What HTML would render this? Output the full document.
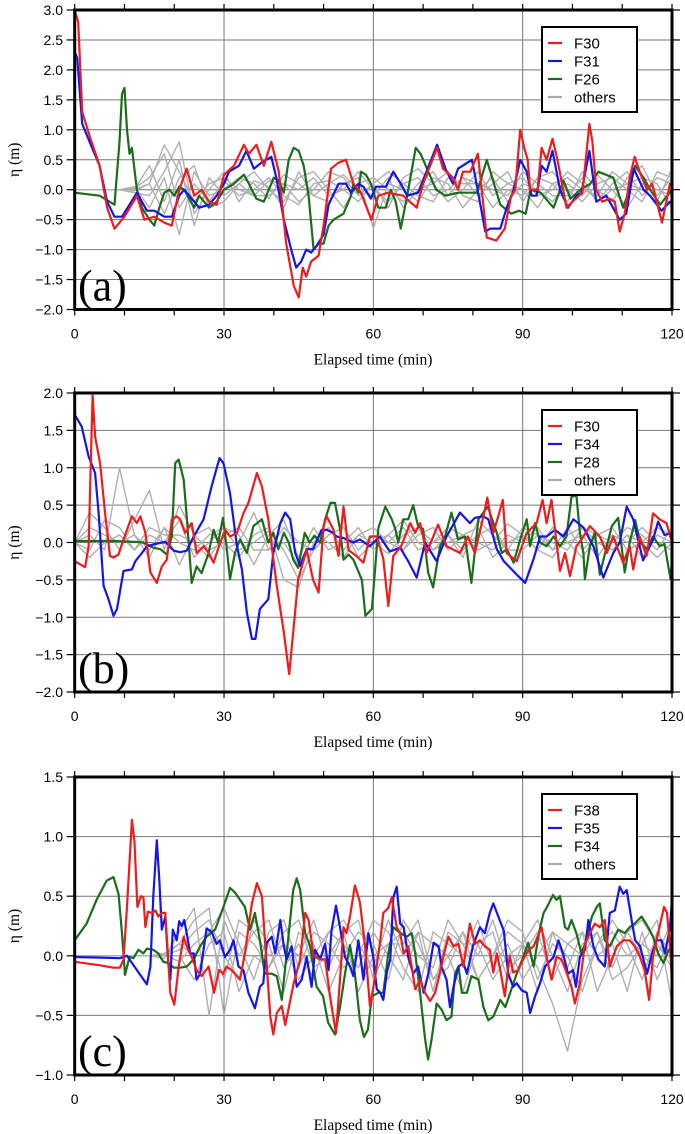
<!DOCTYPE html>
<html><head><meta charset="utf-8">
<style>
html,body{margin:0;padding:0;background:#fff;}
svg{display:block;}
</style></head>
<body>
<svg id="chart" width="685" height="1134" xmlns="http://www.w3.org/2000/svg"></svg>
<script>
// ---------- DATA ----------
const xTicks = [0, 30, 60, 90, 120];
const grayT = [0,3,6,9,12,15,18,21,24,27,30,33,36,39,42,45,48,51,54,57,60,63,66,69,72,75,78,81,84,87,90,93,96,99,102,105,108,111,114,117,120];

const aLabels = ["F30","F31","F26"];
const aRed = [[0,3.0],[0.7,2.8],[1.5,1.3],[3,0.9],[5,0.4],[6.5,-0.3],[8,-0.65],[10,-0.45],[12.5,-0.1],[14,-0.5],[16,-0.45],[18,-0.55],[19.5,-0.6],[21,0.0],[22.5,0.35],[24,-0.1],[25.5,0.0],[27,-0.2],[28.5,-0.25],[30,0.25],[32,0.4],[34,0.75],[35,0.6],[36.5,0.75],[38,0.4],[39.5,0.8],[41,0.3],[42.5,-0.9],[44,-1.6],[45,-1.8],[45.8,-1.3],[46.5,-1.45],[47.5,-1.2],[49,-1.1],[50,-0.6],[51.5,0.35],[53,0.45],[54.5,0.5],[56,0.1],[57.5,-0.05],[59.6,-0.5],[61,-0.1],[63,-0.05],[66,-0.1],[68.7,-0.3],[70,0.1],[72.8,0.7],[74,0.35],[76,0.2],[77,0.0],[78,0.3],[79.5,0.3],[81,0.6],[82.8,-0.8],[84.7,-0.85],[86.4,-0.65],[87.7,-0.1],[88.5,0.0],[89.5,1.0],[90.3,0.7],[91,0.5],[91.5,0.0],[93,0.0],[93.8,0.7],[94.8,0.5],[96,0.85],[97,0.5],[98.8,-0.3],[100,-0.2],[102,-0.05],[103.4,1.1],[104,0.8],[104.8,0.0],[106,-0.2],[107.5,-0.15],[108.5,-0.2],[109.5,-0.7],[110.5,-0.4],[111.5,0.2],[112.5,0.55],[113.5,0.3],[115,0.0],[116,0.1],[118,-0.55],[119.6,0.1],[120,0.05]];
const aBlue = [[0,2.3],[0.5,2.2],[1.5,1.1],[3,0.8],[5,0.4],[6.5,-0.2],[8,-0.45],[9.5,-0.45],[11,-0.25],[12.5,-0.05],[14.5,-0.35],[16,-0.35],[18,-0.45],[19.5,-0.45],[21,-0.1],[22,0.0],[24,-0.2],[25,-0.3],[27,-0.25],[28.5,-0.1],[30,0.1],[31,0.3],[33,0.4],[34.5,0.65],[36,0.35],[37.5,0.45],[39.5,0.55],[40.5,0.2],[42,-0.5],[43.5,-1.0],[44.5,-1.3],[45.5,-1.2],[46.5,-1.0],[47.5,-1.05],[48.5,-0.95],[50,-0.75],[51,-0.25],[53,0.1],[54.5,0.1],[55.5,-0.05],[57,0.1],[58,0.05],[59.5,-0.15],[60.5,0.05],[62.5,0.05],[64,0.3],[65.5,0.1],[66.8,-0.1],[69,-0.05],[72.8,0.75],[74.5,0.35],[76,0.1],[77,0.35],[79.8,0.5],[80.5,0.2],[82.5,-0.7],[83.5,-0.65],[85.5,-0.65],[86.8,-0.3],[88.2,0.0],[89.5,0.5],[90.8,0.3],[91.8,-0.1],[92.8,-0.1],[93.8,0.4],[94.8,0.3],[96,0.65],[97.5,0.0],[99.1,-0.3],[100.8,-0.1],[101.8,-0.05],[103.4,0.65],[104.8,-0.2],[106.8,-0.1],[109.5,-0.5],[110.8,-0.4],[112.3,0.35],[114.3,0.0],[115.6,-0.1],[117.9,-0.35],[119.6,-0.2],[120,-0.2]];
const aGreen = [[0,-0.05],[5,-0.1],[7,-0.2],[8,-0.25],[9,0.8],[9.5,1.6],[10,1.7],[10.5,1.0],[11,0.6],[11.5,0.7],[12.5,0.0],[13.5,-0.3],[15,-0.5],[16,-0.6],[17,-0.3],[18,-0.05],[19,0.0],[20,-0.1],[21,0.05],[22,0.0],[23,-0.15],[24,-0.3],[25,-0.1],[26,-0.2],[27,-0.3],[28.5,-0.2],[30,0.0],[32,0.1],[34,0.25],[35,0.1],[36.5,-0.15],[38,-0.2],[40,0.2],[41,0.15],[42,-0.05],[43,0.5],[44,0.7],[45,0.65],[46,0.4],[47,-0.1],[48,-1.0],[49,-0.9],[50,-0.9],[51,-0.6],[52,-0.5],[54,-0.4],[55.5,-0.1],[56,0.1],[57,-0.05],[57.5,0.3],[58.5,0.25],[59.5,0.1],[61,-0.3],[62.5,-0.3],[63.5,0.0],[64.5,-0.2],[65.5,-0.65],[66.8,-0.1],[68.5,0.7],[69.5,0.6],[72.6,0.0],[74.5,-0.1],[77,-0.05],[79.8,-0.05],[80.8,-0.05],[82.8,0.5],[85.5,-0.25],[87.7,-0.4],[89.3,-0.35],[90.6,-0.4],[91.6,0.0],[93.6,-0.05],[96.2,-0.3],[98.2,0.15],[99.6,-0.15],[101.6,0.0],[103.6,0.1],[105.2,0.3],[108.2,0.2],[110.2,-0.3],[111,-0.1],[112.6,0.4],[114.3,0.2],[115.6,0.0],[117.6,-0.25],[120,0.0]];
const aGray = [
[0,0,0,0,-0.02,0.1,0.75,0.3,-0.2,0.1,0.2,0.0,-0.1,0.15,0.1,-0.2,0.0,0.3,0.2,-0.1,0.1,-0.3,0.2,0.35,0.1,-0.2,0.0,0.3,-0.1,0.1,0.2,-0.1,0.0,0.3,0.1,-0.2,0.1,0.3,-0.1,0.2,0.1],
[0,0,0,0,0.05,-0.3,0.2,-0.75,0.3,-0.1,0.0,0.2,0.1,-0.15,0.25,0.1,-0.1,-0.2,0.1,0.2,-0.65,0.1,0.0,-0.2,0.2,0.1,-0.3,0.0,0.2,-0.2,0.1,0.0,-0.2,0.1,-0.1,0.25,0.0,-0.3,0.1,0.0,-0.1],
[0,0,0,0,0.0,0.4,-0.2,0.5,-0.6,0.2,-0.1,0.1,0.3,0.0,-0.2,0.2,0.3,0.0,-0.3,0.1,0.2,0.0,-0.2,0.1,0.3,-0.1,0.2,-0.1,0.1,0.3,-0.2,0.2,0.1,-0.2,0.3,0.0,-0.2,0.2,0.4,-0.1,0.2],
[0,0,0,0,0.02,0.2,0.6,-0.3,0.1,-0.2,0.15,-0.1,0.0,0.2,-0.1,-0.25,0.1,0.15,0.0,-0.2,0.1,0.3,0.1,-0.1,-0.2,0.2,0.1,0.1,-0.3,0.0,-0.1,0.2,0.3,0.0,-0.2,0.1,0.2,0.0,-0.2,0.3,0.2],
[0,0,0,0,-0.05,-0.1,0.3,0.8,-0.4,0.0,0.3,-0.2,0.15,0.05,-0.3,0.3,-0.1,0.1,0.25,0.0,-0.1,0.2,-0.3,0.0,0.1,0.3,-0.1,-0.2,0.3,0.1,0.0,-0.3,0.1,0.2,0.0,-0.1,0.3,0.1,0.0,-0.2,0.35],
[0,0,0,0,0.0,0.1,-0.4,0.2,0.4,-0.3,-0.2,0.1,-0.1,-0.1,0.1,0.0,0.2,-0.1,0.0,0.3,0.0,-0.2,0.1,0.2,-0.1,0.0,0.2,0.1,0.0,-0.1,0.3,0.1,-0.1,-0.1,0.2,-0.2,0.0,0.1,0.2,0.1,-0.3]
];

const bLabels = ["F30","F34","F28"];
const bRed = [[0,-0.25],[2.1,-0.33],[2.8,-0.05],[3.6,1.97],[4.1,1.42],[5.1,1.06],[6.1,0.39],[7.1,-0.18],[7.8,-0.2],[8.8,-0.16],[9.8,0.04],[11.5,0.35],[12.5,0.26],[13.2,0.35],[14.2,0.13],[15.2,-0.4],[16.5,-0.54],[17.5,-0.32],[18.5,-0.23],[19.5,0.31],[20.5,0.35],[21.2,0.31],[22.2,0.13],[23.5,0.26],[24.5,-0.14],[25.9,-0.05],[26.9,-0.14],[27.9,-0.27],[28.9,-0.07],[30.2,0.17],[31.2,0.08],[32.6,0.13],[33.9,0.39],[34.9,0.53],[36.6,0.93],[37.6,0.75],[38.9,0.31],[40.6,-0.58],[42,-1.2],[43.1,-1.76],[43.9,-1.2],[44.9,-0.49],[46.6,-0.1],[47.9,-0.5],[49,-0.67],[50,0.22],[50.6,0.35],[52,0.17],[53,-0.18],[54,0.48],[55,-0.1],[56.6,-0.18],[58,-0.27],[59.3,0.08],[60.7,0.08],[62,-0.22],[63,-0.85],[64,-0.18],[65.6,-0.05],[67.4,0.26],[68.4,0.13],[69.4,0.26],[70.7,-0.14],[73,0.24],[74.7,-0.05],[77.4,-0.14],[79,0.08],[80.4,-0.14],[82.1,0.35],[82.9,0.6],[84.1,0.13],[85.1,0.35],[86,0.57],[86.8,-0.14],[88.8,-0.25],[90.8,0.13],[92.8,0.26],[94,0.57],[94.8,0.26],[95.8,0.57],[96.8,0.0],[97.5,-0.38],[98.5,-0.14],[99.5,-0.45],[100.8,-0.05],[102.2,0.08],[103.5,0.22],[105.5,0.08],[106.9,-0.14],[108.2,0.08],[109.2,-0.1],[110.2,-0.27],[111.5,-0.05],[112.2,-0.36],[113.5,0.08],[114.9,-0.18],[116.2,0.39],[117.5,0.31],[118.9,0.26],[120,0.0]];
const bBlue = [[0,1.71],[1.4,1.55],[2.8,1.15],[4.1,0.93],[4.8,0.4],[5.8,-0.58],[6.8,-0.76],[7.8,-0.98],[8.5,-0.89],[9.8,-0.38],[11.5,-0.36],[12.2,-0.25],[13.5,-0.14],[14.5,-0.05],[16.2,-0.02],[18.2,0.01],[19.9,-0.11],[21.2,-0.13],[22.5,-0.11],[23.9,0.08],[25.9,0.31],[27.5,0.75],[29.1,1.13],[29.9,1.06],[31.2,0.66],[32.6,-0.05],[33.6,-0.36],[34.6,-0.94],[35.6,-1.29],[36.3,-1.29],[37.2,-0.89],[38.9,-0.76],[39.9,-0.14],[41.3,0.26],[42.3,0.4],[43.3,0.31],[44.3,-0.14],[45.3,-0.31],[46.6,-0.09],[47.9,-0.09],[49.6,0.17],[50.6,0.17],[51.9,0.13],[52.6,0.08],[54,0.06],[56,0.0],[57.3,0.04],[59.3,-0.05],[61.3,0.08],[63.3,-0.12],[65.4,-0.07],[67,-0.25],[68.7,-0.47],[70.4,0.0],[72.7,-0.25],[74.7,0.08],[77.4,0.4],[79.4,0.26],[80.4,0.33],[82.1,0.35],[83.1,0.31],[84.8,-0.09],[86.2,-0.25],[89.1,-0.45],[90.5,-0.54],[92.2,-0.22],[93.5,0.08],[94.8,0.08],[96.5,0.17],[98.2,0.08],[100.2,0.31],[102.2,0.2],[104.2,-0.05],[106.2,-0.47],[108.2,-0.14],[109.5,0.0],[110.9,0.48],[112.2,0.31],[114.2,-0.24],[116.2,0.04],[117.2,0.28],[118.5,0.1],[120,0.13]];
const bGreen = [[0,0.02],[4,0.02],[8,0.02],[12,0.01],[13.8,0.0],[15.8,-0.07],[17.2,-0.09],[18.5,-0.16],[19.5,0.08],[20.2,1.06],[20.9,1.11],[21.9,0.84],[22.5,0.35],[23.5,-0.54],[24.5,-0.32],[25.5,-0.41],[26.9,-0.14],[27.9,0.17],[28.8,0.0],[29.8,0.33],[30.5,-0.05],[31.2,-0.49],[32.2,-0.14],[33.2,0.04],[34.6,-0.14],[35.9,0.22],[37.6,0.31],[38.9,0.0],[39.9,0.13],[40.9,-0.09],[42,0.13],[43,0.0],[43.9,-0.23],[44.9,-0.34],[46.2,0.13],[47.2,0.0],[48.2,0.09],[49.3,0.0],[50.3,0.31],[51.4,0.53],[52.3,0.53],[53.3,0.18],[54,-0.23],[55,-0.16],[56,-0.23],[57.7,-0.5],[58.4,-0.98],[59.7,-0.89],[60.4,-0.32],[61,0.19],[62.4,0.48],[63.7,0.31],[64.4,0.18],[65,0.0],[66,0.31],[67,0.31],[68,0.5],[69,0.22],[70,0.18],[71,-0.4],[72,-0.6],[73.4,-0.05],[74.4,0.08],[75.7,0.4],[77,0.04],[78.4,0.08],[79.7,-0.54],[81.1,0.31],[83,0.48],[84.8,0.13],[85.8,-0.14],[86.8,-0.09],[88.2,-0.27],[89.5,0.04],[90.8,0.31],[91.5,-0.05],[92.5,0.26],[93.5,0.0],[94.8,-0.05],[96.2,0.08],[97.5,-0.05],[98.8,0.08],[99.8,0.61],[100.8,0.63],[101.5,0.13],[102.2,-0.14],[102.5,-0.49],[103.5,-0.05],[104.5,0.13],[105.5,-0.43],[106.9,-0.05],[107.9,0.22],[109.2,0.33],[110.5,-0.4],[111.5,0.0],[112.6,0.3],[113.6,0.0],[114.9,-0.09],[116.2,0.08],[117.5,-0.05],[118.5,-0.02],[119.7,-0.49],[120,-0.23]];
const bGray = [
[0,0.1,-0.1,1.0,0.1,-0.2,0.2,0.0,-0.1,0.1,0.2,-0.1,0.0,0.15,-0.1,-0.5,-0.1,0.1,0.2,-0.1,0.1,0.0,0.2,-0.1,0.0,0.2,0.1,-0.1,0.0,0.25,0.1,-0.1,0.2,0.0,-0.2,0.1,0.2,-0.1,0.0,0.2,0.1],
[0,0.4,0.2,-0.1,0.3,0.7,-0.1,0.5,0.1,-0.1,0.0,-0.2,0.1,0.2,-0.5,-0.6,0.0,0.2,-0.1,0.1,0.0,-0.15,0.1,0.2,-0.1,0.0,0.1,0.2,-0.2,0.0,0.1,-0.1,-0.2,0.1,0.2,0.0,-0.1,0.1,0.0,-0.2,0.0],
[0,-0.1,0.3,0.2,-0.1,0.1,0.0,0.3,-0.2,0.0,0.2,0.1,-0.3,0.1,0.3,-0.2,0.2,-0.1,0.0,0.2,-0.1,0.1,0.3,0.0,-0.1,0.1,-0.2,0.3,0.1,-0.1,0.2,0.1,-0.1,0.2,-0.1,0.1,0.0,0.2,0.1,-0.1,0.2],
[0,0.2,0.1,0.0,0.1,-0.1,0.2,-0.3,0.1,0.2,-0.1,0.0,0.4,-0.1,0.0,-0.3,0.1,0.0,-0.2,0.1,0.2,0.0,-0.1,0.1,0.2,-0.1,0.1,0.0,-0.1,0.1,0.0,0.2,-0.1,0.0,0.1,-0.2,0.1,0.0,0.2,0.0,-0.1],
[0,-0.2,0.0,0.1,-0.1,0.2,0.1,0.1,0.0,-0.2,0.1,0.2,-0.1,-0.1,0.2,0.0,-0.1,0.1,0.2,-0.2,0.0,0.1,-0.1,0.2,0.0,0.1,-0.1,0.1,0.2,-0.1,-0.1,0.1,0.0,-0.1,0.2,0.1,-0.1,0.1,-0.2,0.1,0.0]
];

const cLabels = ["F38","F35","F34"];
const cRed = [[0,-0.05],[5.1,-0.08],[7.8,-0.1],[9.1,-0.1],[9.8,-0.03],[10.5,0.41],[11.5,1.14],[12,0.97],[12.6,0.41],[13.3,0.5],[13.8,0.49],[14.2,0.24],[14.7,0.37],[15.5,0.36],[16.2,0.38],[16.8,0.33],[17.5,0.36],[18.2,0.36],[18.6,0.08],[19.2,-0.31],[20,-0.41],[20.9,-0.09],[21.9,0.16],[22.5,0.08],[23.5,-0.01],[24.5,-0.12],[25.5,-0.17],[26.9,-0.09],[28,-0.31],[29,-0.12],[29.8,-0.15],[30.5,-0.09],[31.5,-0.12],[32.2,-0.15],[33.2,-0.2],[34.2,0.02],[35.6,0.44],[36.6,0.61],[37.6,0.5],[38.6,-0.09],[39.3,-0.51],[39.9,-0.66],[40.6,-0.48],[41.6,-0.42],[42.3,-0.58],[43,-0.44],[44,-0.23],[45.3,-0.03],[46.3,0.36],[47,0.3],[48,0.0],[49.3,-0.03],[50.3,-0.03],[51.3,-0.34],[52.5,-0.65],[53.3,-0.2],[54,0.24],[54.6,0.19],[55.3,0.33],[56.3,0.59],[57.3,0.45],[58.3,0.1],[59.3,-0.42],[60.3,-0.2],[61.4,0.13],[62,0.36],[63,0.4],[63.7,0.49],[64.7,0.24],[65.4,0.19],[66.1,0.02],[67,0.08],[67.7,-0.09],[68.4,-0.28],[69.4,-0.2],[70.4,-0.31],[71.4,-0.38],[72.4,-0.31],[73.4,-0.14],[74.1,0.0],[75.1,0.16],[76.1,0.08],[77.1,0.1],[78.1,-0.09],[79.4,0.27],[80.4,0.1],[81.4,0.13],[82.4,0.08],[83.4,0.05],[84.1,-0.14],[84.8,0.02],[85.5,-0.12],[86.4,-0.34],[87.4,0.0],[88.1,-0.14],[89.1,-0.12],[90.1,-0.03],[91.2,0.05],[92.2,0.08],[93.8,0.24],[94.8,-0.01],[95.8,-0.2],[96.8,-0.01],[97.8,-0.03],[98.8,-0.14],[99.8,-0.26],[100.5,-0.4],[101.5,-0.23],[102.5,0.1],[103.5,0.19],[104.5,0.27],[105.5,0.24],[106.5,0.3],[107.5,-0.09],[108.9,0.08],[110.2,0.13],[111.5,0.13],[112.5,0.08],[113.5,0.0],[114.5,-0.12],[115.4,-0.37],[116.2,0.0],[118.4,0.41],[119,0.36],[119.6,0.08],[120,-0.23]];
const cBlue = [[0,-0.01],[9.1,-0.02],[10.5,0.0],[12.5,-0.12],[14.5,-0.24],[15.2,-0.09],[15.8,0.5],[16.5,0.97],[17,0.64],[17.5,0.22],[18.2,0.33],[18.8,-0.06],[19.2,-0.2],[19.7,0.22],[20.5,0.13],[21,0.29],[21.5,0.25],[22,0.3],[22.5,0.19],[23.2,0.02],[23.9,0.02],[24.5,-0.2],[25.2,-0.15],[26.5,0.23],[27.5,0.2],[28.5,0.1],[29.2,0.13],[30.2,-0.01],[31.2,0.05],[31.9,0.13],[32.9,-0.09],[33.9,-0.12],[34.9,-0.31],[36.2,-0.44],[37.2,-0.26],[37.9,-0.23],[38.6,0.11],[39.6,0.16],[40.3,0.02],[41.3,0.3],[42,0.08],[42.6,-0.03],[43.6,0.08],[44.6,-0.26],[45.6,-0.2],[46.6,-0.01],[47.6,-0.26],[48.3,0.05],[49.3,-0.03],[50.3,0.1],[51,-0.12],[51.6,0.21],[52.5,0.42],[53.3,0.24],[54.3,-0.01],[55.3,-0.09],[56,-0.17],[57,0.13],[58,-0.2],[59,0.19],[60,-0.01],[60.7,-0.28],[61.4,-0.31],[62,-0.37],[62.7,-0.14],[63.4,-0.03],[64,0.49],[64.7,0.58],[65.4,0.27],[66.1,0.24],[67,-0.01],[68,-0.15],[69,-0.09],[70.1,-0.31],[71.1,-0.14],[72.1,0.11],[73.1,0.08],[73.7,-0.09],[74.7,-0.2],[75.4,-0.43],[76.1,-0.26],[77.1,-0.09],[78.1,-0.06],[78.8,-0.15],[80,0.08],[81.4,0.24],[82.4,0.19],[83.4,0.36],[84.1,0.44],[85.1,0.33],[86.2,0.21],[87.1,-0.15],[88.1,-0.26],[88.8,-0.23],[89.8,-0.29],[90.8,-0.31],[91.5,-0.48],[92.5,-0.34],[93.5,-0.23],[94.5,-0.09],[96.2,-0.01],[97.2,0.13],[98.1,0.02],[99.1,-0.15],[100.1,-0.12],[100.7,-0.26],[101.5,-0.01],[102.5,0.05],[103.2,0.3],[104.2,0.08],[105.2,-0.03],[106.5,-0.09],[107.5,0.36],[108.5,0.38],[109.5,0.58],[110.2,0.52],[110.9,0.55],[112,0.27],[112.6,0.13],[113.6,0.08],[115,-0.15],[116,0.02],[116.9,0.13],[117.9,0.13],[118.6,0.02],[119.6,0.24],[120,0.47]];
const cGreen = [[0,0.13],[2.4,0.27],[4.4,0.47],[6.4,0.63],[7.8,0.66],[8.8,0.52],[9.5,0.19],[10.1,-0.16],[11,-0.01],[11.8,-0.02],[12.8,0.05],[13.8,0.02],[14.5,0.06],[15.8,0.05],[16.8,0.02],[17.8,-0.05],[18.8,-0.06],[19.9,-0.1],[21.2,-0.1],[22.5,-0.09],[23.9,-0.03],[25.2,0.08],[26.5,0.16],[28.2,0.22],[29.9,0.41],[31.2,0.57],[32.2,0.53],[33.2,0.47],[34.2,0.41],[35.2,0.22],[36.2,0.36],[37.2,0.13],[38.2,-0.15],[39.6,-0.15],[40.6,-0.17],[41.6,-0.37],[42.6,0.02],[43.9,0.55],[44.6,0.65],[45.3,0.55],[46.3,0.19],[47.3,0.08],[48.6,-0.26],[49.9,-0.34],[50.9,-0.56],[52.3,-0.66],[53.3,-0.43],[54.3,-0.15],[55.3,0.09],[56.3,-0.15],[57.3,-0.54],[58.1,-0.68],[58.9,-0.62],[59.7,-0.34],[61,-0.31],[62,-0.31],[63,0.02],[64,0.24],[65.4,0.19],[66.7,0.16],[67.7,0.19],[68.4,0.02],[69.4,-0.31],[70.4,-0.7],[71,-0.87],[71.7,-0.7],[72.7,-0.4],[73.7,-0.45],[74.7,-0.54],[75.7,-0.51],[76.4,-0.15],[77.1,-0.09],[77.8,-0.31],[78.8,-0.31],[79.7,-0.17],[81.1,-0.2],[82.1,-0.43],[83.1,-0.54],[84.1,-0.51],[85.5,-0.37],[86.5,-0.43],[87.5,-0.31],[88.8,-0.15],[90.1,-0.01],[91.1,0.11],[92.2,-0.09],[93.3,0.2],[94.2,0.36],[94.9,0.41],[96.1,0.51],[96.8,0.47],[97.5,0.5],[98.5,0.24],[99.1,0.22],[99.8,0.3],[100.8,0.19],[101.8,0.02],[102.8,0.13],[103.9,0.33],[104.9,0.41],[105.5,0.44],[106.5,0.13],[107.5,0.08],[109.2,0.22],[110.5,0.19],[111.5,0.24],[112.5,0.27],[113.9,0.33],[115.2,0.24],[116.2,0.16],[117.2,0.02],[118.3,-0.06],[119.3,0.05],[120,0.02]];
const cGray = [
[0,0,0,0,0,0.0,0.02,0.1,0.3,0.4,-0.5,0.2,0.1,-0.1,0.2,0.3,-0.1,0.0,0.2,0.3,-0.2,0.1,0.2,0.0,-0.1,0.3,0.1,-0.2,0.0,0.2,0.1,-0.1,-0.4,-0.8,-0.2,0.1,0.2,0.0,0.1,0.3,-0.4],
[0,0,0,0,0,0.0,-0.02,0.2,0.4,-0.5,0.3,0.0,0.2,0.3,-0.1,0.1,-0.2,0.2,0.1,-0.1,0.2,0.0,-0.2,0.2,0.1,0.0,-0.3,0.1,0.2,-0.2,0.1,0.3,0.0,-0.3,0.1,0.2,-0.1,0.2,0.0,-0.1,0.2],
[0,0,0,0,0,0.0,0.0,0.05,0.2,0.3,0.0,-0.2,0.3,0.1,-0.3,0.2,0.1,-0.3,0.0,0.2,0.1,-0.2,0.3,0.1,-0.2,0.0,0.2,-0.2,0.0,0.3,0.2,-0.2,0.1,0.0,-0.3,0.1,0.3,0.1,-0.2,0.2,0.0],
[0,0,0,0,0,0.0,0.01,-0.05,0.1,0.2,0.4,0.1,-0.2,0.2,0.3,-0.1,0.2,0.1,-0.1,0.0,0.3,0.2,-0.1,-0.3,0.2,0.1,0.0,0.3,-0.1,0.1,-0.2,0.0,0.2,0.1,0.2,-0.3,0.0,0.2,0.3,0.1,-0.1],
[0,0,0,0,0,0.0,0.0,0.0,-0.2,0.1,0.2,-0.3,0.0,-0.1,0.1,0.0,0.3,-0.1,0.2,-0.3,0.0,0.1,0.1,0.3,-0.2,-0.1,0.2,0.0,0.3,-0.1,0.0,0.2,-0.2,0.1,0.0,0.2,-0.2,-0.1,0.1,0.0,0.3],
[0,0,0,0,0,0.0,0.0,0.1,0.0,0.2,-0.2,0.3,0.2,0.0,0.1,-0.2,0.0,0.2,0.3,0.1,-0.1,0.3,0.0,0.2,-0.3,0.2,0.1,0.1,-0.2,0.0,0.1,-0.3,0.2,-0.1,0.2,0.0,0.1,-0.3,0.2,-0.2,0.1]
];

// ---------- DRAW ----------
const NS = "http://www.w3.org/2000/svg";
const svg = document.getElementById('chart');
const X0 = 74.7, X1 = 672;
function xs(t){ return X0 + (t/120)*(X1-X0); }
function mk(tag, attrs, parent){
  const e = document.createElementNS(NS, tag);
  for (const k in attrs) e.setAttribute(k, attrs[k]);
  (parent||svg).appendChild(e);
  return e;
}
function fmt(v){ const s = Math.abs(v).toFixed(1); return (v < -1e-9 ? "\u2212" : "") + s; }

const panels = [
  {id:'a', top:10, bot:309.5, ymin:-2, ymax:3, labels:aLabels, red:aRed, blue:aBlue, green:aGreen, gray:aGray},
  {id:'b', top:393, bot:692, ymin:-2, ymax:2, labels:bLabels, red:bRed, blue:bBlue, green:bGreen, gray:bGray},
  {id:'c', top:777, bot:1075, ymin:-1, ymax:1.5, labels:cLabels, red:cRed, blue:cBlue, green:cGreen, gray:cGray}
];

panels.forEach(function(p){
  const ys = function(v){ return p.bot - (v - p.ymin)/(p.ymax - p.ymin)*(p.bot - p.top); };
  const g = mk('g', {});
  
  
  const clip = mk('clipPath', {id:'clip-'+p.id}, g);
  mk('rect', {x:X0, y:p.top, width:X1-X0, height:p.bot-p.top}, clip);

  for (let v = p.ymin; v <= p.ymax + 1e-6; v += 0.5) {
    const y = ys(v);
    const l = mk('line', {x1:X0, x2:X1, y1:y, y2:y, stroke:'#777', 'stroke-width':1}, g);
    
    
    mk('line', {x1:X0-8, x2:X0, y1:y, y2:y, stroke:'#000', 'stroke-width':1.2}, g);
    mk('line', {x1:X1, x2:X1+8, y1:y, y2:y, stroke:'#000', 'stroke-width':1.2}, g);
    const tx = mk('text', {x:63, y:y+5, 'text-anchor':'end', 'font-family':'Liberation Sans, sans-serif', 'font-size':14, fill:'#000'}, g);
    tx.textContent = fmt(v);
    
    
  }
  for (let t = 0; t <= 120; t += 10) {
    const x = xs(t);
    if (t % 30 === 0 && t > 0 && t < 120) {
      const l = mk('line', {x1:x, x2:x, y1:p.top, y2:p.bot, stroke:'#777', 'stroke-width':1}, g);
      
      
    }
    mk('line', {x1:x, x2:x, y1:p.bot, y2:p.bot+6, stroke:'#000', 'stroke-width':1.2}, g);
    mk('line', {x1:x, x2:x, y1:p.top-6, y2:p.top, stroke:'#000', 'stroke-width':1.2}, g);
  }
  xTicks.forEach(function(t){
    const tx = mk('text', {x:xs(t), y:p.bot+29, 'text-anchor':'middle', 'font-family':'Liberation Sans, sans-serif', 'font-size':14, fill:'#000'}, g);
    tx.textContent = String(t);
    
    
  });
  const xt = mk('text', {x:373, y:p.bot+55, 'text-anchor':'middle', 'font-family':'Liberation Serif, serif', 'font-size':15.5, fill:'#000'}, g);
  xt.textContent = 'Elapsed time (min)';
  
  
  const yt = mk('text', {x:0, y:0, 'text-anchor':'middle', 'font-family':'Liberation Serif, serif', 'font-size':15.5, fill:'#000', transform:'translate(19,'+((p.top+p.bot)/2)+') rotate(-90)'}, g);
  yt.textContent = '\u03b7 (m)';
  
  

  const lines = mk('g', {'clip-path':'url(#clip-'+p.id+')'}, g);
  p.gray.forEach(function(arr){
    let d = '';
    const n = Math.min(arr.length, grayT.length);
    for (let i = 0; i < n; i++) d += (i ? 'L' : 'M') + xs(grayT[i]).toFixed(1) + ',' + ys(arr[i]).toFixed(1);
    const pa = mk('path', {d:d, fill:'none', stroke:'#b0b0b0', 'stroke-width':1.4, 'stroke-linejoin':'round'}, lines);
    
    
  });
  const series = [[p.green,'#1a6e1a',p.labels[2]],[p.blue,'#1515e8',p.labels[1]],[p.red,'#ee1c1c',p.labels[0]]];
  series.forEach(function(s){
    let d = '';
    s[0].forEach(function(pt, i){ d += (i ? 'L' : 'M') + xs(pt[0]).toFixed(1) + ',' + ys(pt[1]).toFixed(1); });
    const pa = mk('path', {d:d, fill:'none', stroke:s[1], 'stroke-width':2.2, 'stroke-linejoin':'round'}, lines);
    
    
  });

  const fr = mk('rect', {x:X0, y:p.top, width:X1-X0, height:p.bot-p.top, fill:'none', stroke:'#000', 'stroke-width':3}, g);
  
  

  const pl = mk('text', {x:78, y:p.bot-9, 'font-family':'Liberation Serif, serif', 'font-size':44, fill:'#000'}, g);
  pl.textContent = '(' + p.id + ')';
  
  

  const lg = mk('g', {}, g);
  
  
  mk('rect', {x:542, y:p.top+17, width:95, height:85, fill:'#fff', stroke:'#000', 'stroke-width':2}, lg);
  const entries = [[p.labels[0],'#ee1c1c'],[p.labels[1],'#1515e8'],[p.labels[2],'#1a6e1a'],['others','#aaa']];
  entries.forEach(function(e, i){
    const y = p.top + 33 + i*18;
    const en = mk('g', {}, lg);
    
    
    mk('line', {x1:548, x2:562, y1:y, y2:y, stroke:e[1], 'stroke-width':2.2}, en);
    const tx = mk('text', {x:574, y:y+5.5, 'font-family':'Liberation Sans, sans-serif', 'font-size':15, fill:'#000'}, en);
    tx.textContent = e[0];
  });
});
</script>
</body></html>
